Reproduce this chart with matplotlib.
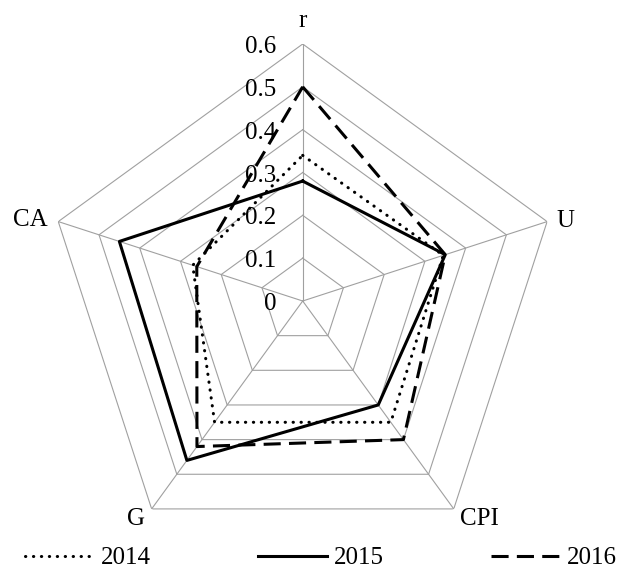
import numpy as np
import matplotlib
matplotlib.use('Agg')
from matplotlib import pyplot as plt

plt.rcParams['font.family'] = ['Liberation Serif', 'DejaVu Serif']

# Dati
categories = ['r', 'U', 'CPI', 'G', 'CA']
years = ['2014', '2015', '2016']
values_2014 = [0.34, 0.345, 0.35, 0.35, 0.27]
values_2015 = [0.28, 0.35, 0.30, 0.46, 0.45]
values_2016 = [0.50, 0.35, 0.40, 0.42, 0.26]
rings = [0.1, 0.2, 0.3, 0.4, 0.5, 0.6]
tick_labels = ['0', '0.1', '0.2', '0.3', '0.4', '0.5', '0.6']

n = len(categories)
angles = np.linspace(0, 2 * np.pi, n, endpoint=False)
closed = np.append(angles, angles[0])

fig = plt.figure(figsize=(6.21, 5.68), dpi=100)
W, H = 621, 568
cx, cy, R = 302.7, 301, 257
ax = fig.add_axes([(cx - R) / W, (H - cy - R) / H, 2 * R / W, 2 * R / H],
                  projection='polar')
ax.set_theta_offset(np.pi / 2)
ax.set_theta_direction(-1)
ax.set_ylim(0, 0.6)
ax.set_xticks([])
ax.set_yticks([])
ax.grid(False)
ax.spines['polar'].set_visible(False)

grid_col = '#a0a0a0'
for lev in rings:
    ax.plot(closed, [lev] * (n + 1), color=grid_col, lw=0.8, zorder=1)
for a in angles:
    ax.plot([a, a], [0, 0.6], color=grid_col, lw=0.8, zorder=1)

# Serie
styles = {
    '2014': dict(ls=(0, (0.1, 2.5)), dash_capstyle='round'),
    '2015': dict(ls='-'),
    '2016': dict(ls=(0, (5.6, 2.7))),
}
series = [values_2014, values_2015, values_2016]
handles = []
for y, vals in zip(years, series):
    v = np.append(vals, vals[0])
    h, = ax.plot(closed, v, color='black', lw=2.2, zorder=3, label=y,
                 **styles[y])
    handles.append(h)

# Etichette dei valori sull'asse r
for lab, lev in zip(tick_labels, [0] + rings):
    ax.annotate(lab, xy=(0, lev), xytext=(-19.2, -6.5),
                textcoords='offset points', ha='right', va='baseline',
                fontsize=18, zorder=4)

# Etichette delle categorie
offs = {
    'r': ((0, 12.2), 'center'),
    'U': ((6.8, -4.0), 'left'),
    'CPI': ((4.8, -11.5), 'left'),
    'G': ((-4.8, -11.5), 'right'),
    'CA': ((-7.9, -3.1), 'right'),
}
for cat, a in zip(categories, angles):
    off, ha = offs[cat]
    ax.annotate(cat, xy=(a, 0.6), xytext=off, textcoords='offset points',
                ha=ha, va='baseline', fontsize=18, annotation_clip=False)

fig.legend(handles, years, loc='center', bbox_to_anchor=(321 / W, 1 - 558 / H),
           ncol=3, frameon=False, fontsize=18, handlelength=2.76,
           handletextpad=0.28, columnspacing=4.28)

fig.savefig('out.png', dpi=100)
